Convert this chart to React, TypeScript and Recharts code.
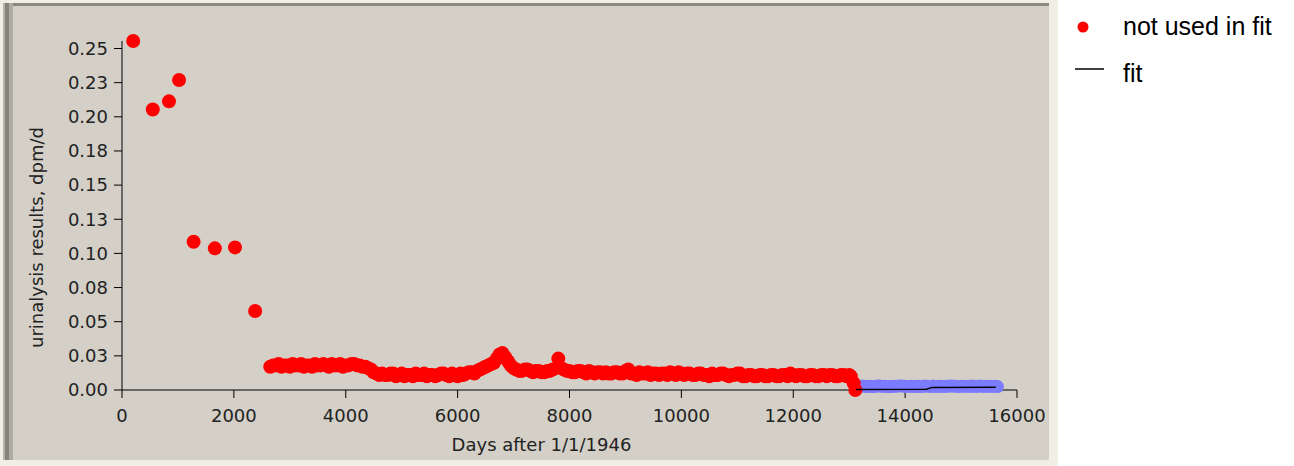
import { ScatterChart, Scatter, XAxis, YAxis, Label } from 'recharts'

// days after 1/1/1946 and urinalysis results (dpm/d)
const NOT_USED_DAYS = [
  200, 550, 840, 1020, 1280, 1660, 2020, 2380,
  2650, 2750, 2850, 2950, 3050, 3150, 3250, 3350, 3450, 3550,
  3650, 3750, 3850, 3950, 4050, 4150, 4250, 4350, 4450, 4550,
  4650, 4750, 4850, 4950, 5050, 5150, 5250, 5350, 5450, 5550,
  5650, 5750, 5850, 5950, 6050, 6150, 6250, 6350, 6450, 6550,
  6650, 6750, 6850, 6950, 7050, 7150, 7250, 7350, 7450, 7550,
  7650, 7800, 7850, 7950, 8050, 8150, 8250, 8350, 8450, 8550,
  8650, 8750, 8850, 8950, 9050, 9150, 9250, 9350, 9450, 9550,
  9650, 9750, 9850, 9950, 10050, 10150, 10250, 10350, 10450, 10550,
  10650, 10750, 10850, 10950, 11050, 11150, 11250, 11350, 11450, 11550,
  11650, 11750, 11850, 11950, 12050, 12150, 12250, 12350, 12450, 12550,
  12650, 12750, 12850, 12950, 13030, 13080, 13110,
]
const NOT_USED_VALUES = [
  0.2555, 0.2054, 0.2113, 0.2269, 0.1085, 0.1037, 0.1044, 0.0578,
  0.017, 0.018, 0.017, 0.018, 0.019, 0.018, 0.017, 0.018, 0.019, 0.018,
  0.018, 0.019, 0.018, 0.017, 0.018, 0.019, 0.018, 0.017, 0.015, 0.012,
  0.012, 0.011, 0.012, 0.011, 0.010, 0.011, 0.012, 0.011, 0.010, 0.011,
  0.011, 0.012, 0.010, 0.011, 0.012, 0.012, 0.013, 0.014, 0.016, 0.018,
  0.020, 0.026, 0.024, 0.018, 0.015, 0.014, 0.015, 0.013, 0.014, 0.013,
  0.014, 0.023, 0.016, 0.014, 0.013, 0.014, 0.013, 0.014, 0.012, 0.013,
  0.013, 0.012, 0.013, 0.012, 0.015, 0.012, 0.013, 0.012, 0.011, 0.012,
  0.012, 0.011, 0.012, 0.013, 0.011, 0.012, 0.011, 0.012, 0.011, 0.012,
  0.011, 0.012, 0.010, 0.011, 0.012, 0.010, 0.011, 0.010, 0.011, 0.010,
  0.011, 0.010, 0.011, 0.012, 0.010, 0.011, 0.010, 0.011, 0.010, 0.011,
  0.011, 0.010, 0.011, 0.010, 0.010, 0.005, 0.000,
]
// the in-between samples of the same dense run
const NOT_USED_DAYS_2 = [
  2700, 2800, 2900, 3000, 3100, 3200, 3300, 3400, 3500, 3600,
  3700, 3800, 3900, 4000, 4100, 4200, 4300, 4400, 4500, 4600,
  4700, 4800, 4900, 5000, 5100, 5200, 5300, 5400, 5500, 5600,
  5700, 5800, 5900, 6000, 6100, 6200, 6300, 6400, 6500, 6600,
  6700, 6800, 6900, 7000, 7100, 7200, 7300, 7400, 7500, 7600,
  7700, 7900, 8000, 8100, 8200, 8300, 8400, 8500, 8600,
  8700, 8800, 8900, 9000, 9100, 9200, 9300, 9400, 9500, 9600,
  9700, 9800, 9900, 10000, 10100, 10200, 10300, 10400, 10500, 10600,
  10700, 10800, 10900, 11000, 11100, 11200, 11300, 11400, 11500, 11600,
  11700, 11800, 11900, 12000, 12100, 12200, 12300, 12400, 12500, 12600,
  12700, 12800, 12900, 13000,
]
const NOT_USED_VALUES_2 = [
  0.018, 0.019, 0.018, 0.017, 0.018, 0.019, 0.018, 0.017, 0.018, 0.019,
  0.017, 0.018, 0.019, 0.018, 0.019, 0.018, 0.017, 0.016, 0.013, 0.011,
  0.011, 0.012, 0.010, 0.012, 0.011, 0.010, 0.011, 0.012, 0.011, 0.010,
  0.012, 0.011, 0.012, 0.010, 0.011, 0.013, 0.012, 0.015, 0.017, 0.019,
  0.023, 0.027, 0.021, 0.016, 0.014, 0.015, 0.014, 0.014, 0.013, 0.014,
  0.015, 0.015, 0.014, 0.013, 0.014, 0.012, 0.013, 0.013, 0.012,
  0.012, 0.013, 0.012, 0.014, 0.012, 0.011, 0.012, 0.013, 0.012, 0.011,
  0.012, 0.013, 0.011, 0.012, 0.012, 0.011, 0.012, 0.011, 0.010, 0.011,
  0.012, 0.011, 0.011, 0.012, 0.010, 0.011, 0.010, 0.011, 0.010, 0.011,
  0.010, 0.011, 0.010, 0.011, 0.011, 0.010, 0.011, 0.010, 0.011, 0.010,
  0.011, 0.010, 0.011, 0.011,
]

const USED_DAYS = [
  13150, 13200, 13250, 13300, 13350, 13400, 13450, 13500, 13550, 13600,
  13650, 13700, 13750, 13800, 13850, 13900, 13950, 14000, 14050, 14100,
  14150, 14200, 14250, 14300, 14350, 14400, 14450, 14500, 14550, 14600,
  14650, 14700, 14750, 14800, 14850, 14900, 14950, 15000, 15050, 15100,
  15150, 15200, 15250, 15300, 15350, 15400, 15450, 15500, 15550, 15600, 15650,
]
const USED_VALUES = [
  0.0025, 0.0028, 0.003, 0.0026, 0.0028, 0.0025, 0.0025, 0.0029, 0.003, 0.0026,
  0.0027, 0.0025, 0.0025, 0.0027, 0.0028, 0.003, 0.003, 0.0027, 0.0026, 0.0028,
  0.0025, 0.0027, 0.0028, 0.0025, 0.003, 0.0028, 0.0026, 0.0029, 0.0025, 0.0027,
  0.0028, 0.0026, 0.0027, 0.0029, 0.003, 0.0027, 0.0025, 0.0028, 0.0028, 0.0026,
  0.0027, 0.0029, 0.0025, 0.0027, 0.003, 0.0026, 0.0028, 0.0027, 0.0026, 0.0028, 0.0025,
]

const FIT_DAYS = [13120, 14380, 14480, 15620]
const FIT_VALUES = [0.0004, 0.0006, 0.0019, 0.002]

const X_TICKS = [0, 2000, 4000, 6000, 8000, 10000, 12000, 14000, 16000]
const Y_TICKS = [0, 0.025, 0.05, 0.075, 0.1, 0.125, 0.15, 0.175, 0.2, 0.225, 0.25]
const Y_TICK_LABELS = ['0.00', '0.03', '0.05', '0.08', '0.10', '0.13', '0.15', '0.18', '0.20', '0.23', '0.25']

const zip = (xs: number[], ys: number[]) => xs.map((x, i) => ({ x, y: ys[i] }))

const notUsed = [...zip(NOT_USED_DAYS, NOT_USED_VALUES), ...zip(NOT_USED_DAYS_2, NOT_USED_VALUES_2)]
const used = zip(USED_DAYS, USED_VALUES)
const fit = zip(FIT_DAYS, FIT_VALUES)

const FONT = '"DejaVu Sans", Verdana, sans-serif'
const tickStyle = { fontSize: 18, fill: '#222', fontFamily: FONT }

const XLabel = ({ viewBox }: any) => (
  <text x={viewBox.x + viewBox.width / 2 - 28} y={viewBox.y + 61} textAnchor="middle" fontSize={18} fill="#222" fontFamily={FONT}>
    Days after 1/1/1946
  </text>
)

const YLabel = ({ viewBox }: any) => {
  const cx = viewBox.x + 43
  const cy = viewBox.y + viewBox.height / 2 + 22
  return (
    <text x={cx} y={cy} transform={`rotate(-90, ${cx}, ${cy})`} textAnchor="middle" fontSize={18} fill="#222" fontFamily={FONT}>
      urinalysis results, dpm/d
    </text>
  )
}

export default function App() {
  return (
    <div style={{ position: 'absolute', left: 0, top: 0, width: 1294, height: 466, background: '#fff' }}>
      {/* sunken grey panel */}
      <div style={{ position: 'absolute', left: 0, top: 0, width: 1058, height: 466, background: '#f1efe4' }} />
      <div style={{ position: 'absolute', left: 4, top: 3, width: 1045, height: 457, background: '#d4d0c8', borderTop: '3px solid #8a887f', boxSizing: 'border-box' }} />
      <div style={{ position: 'absolute', left: 3, top: 3, width: 10, height: 457, background: 'linear-gradient(to right, #b4b2aa 0 2px, #85837b 2px 6px, #aeaba3 6px 10px)' }} />

      <div style={{ position: 'absolute', left: 0, top: 0 }}>
        <ScatterChart width={1294} height={466} margin={{ top: 41, right: 277, bottom: 6, left: 0 }}>
          <XAxis
            type="number" dataKey="x" domain={[0, 16000]} ticks={X_TICKS} interval={0}
            height={70} tick={tickStyle} tickSize={8} tickMargin={11}
            axisLine={{ stroke: '#000' }} tickLine={{ stroke: '#000' }}
          >
            <Label content={XLabel} />
          </XAxis>
          <YAxis
            type="number" dataKey="y" domain={[0, 0.25]} ticks={Y_TICKS} interval={0}
            width={122} tick={tickStyle} tickSize={8} tickMargin={6}
            tickFormatter={(v: number) => Y_TICK_LABELS[Y_TICKS.indexOf(v)] ?? String(v)}
            axisLine={{ stroke: '#000' }} tickLine={{ stroke: '#000' }}
          >
            <Label content={YLabel} />
          </YAxis>
          <Scatter
            name="used in fit" data={used} isAnimationActive={false}
            shape={(p: any) => <circle cx={p.cx} cy={p.cy} r={6.5} fill="#7b7bff" />}
          />
          <Scatter
            name="not used in fit" data={notUsed} isAnimationActive={false}
            shape={(p: any) => <circle cx={p.cx} cy={p.cy} r={7} fill="#ff0000" />}
          />
          <Scatter
            name="fit" data={fit} isAnimationActive={false}
            line={{ stroke: '#000', strokeWidth: 1.5 }} shape={() => <g />}
          />
        </ScatterChart>
      </div>

      {/* legend */}
      <svg width={234} height={100} style={{ position: 'absolute', left: 1060, top: 0 }}>
        <circle cx={23} cy={27} r={5.5} fill="#ff0000" />
        <text x={63} y={35} fontSize={25} fill="#000" fontFamily='"Liberation Sans", Arial, sans-serif'>not used in fit</text>
        <line x1={15} x2={44} y1={69} y2={69} stroke="#000" strokeWidth={1.5} />
        <text x={63} y={82} fontSize={25} fill="#000" fontFamily='"Liberation Sans", Arial, sans-serif'>fit</text>
      </svg>
    </div>
  )
}
